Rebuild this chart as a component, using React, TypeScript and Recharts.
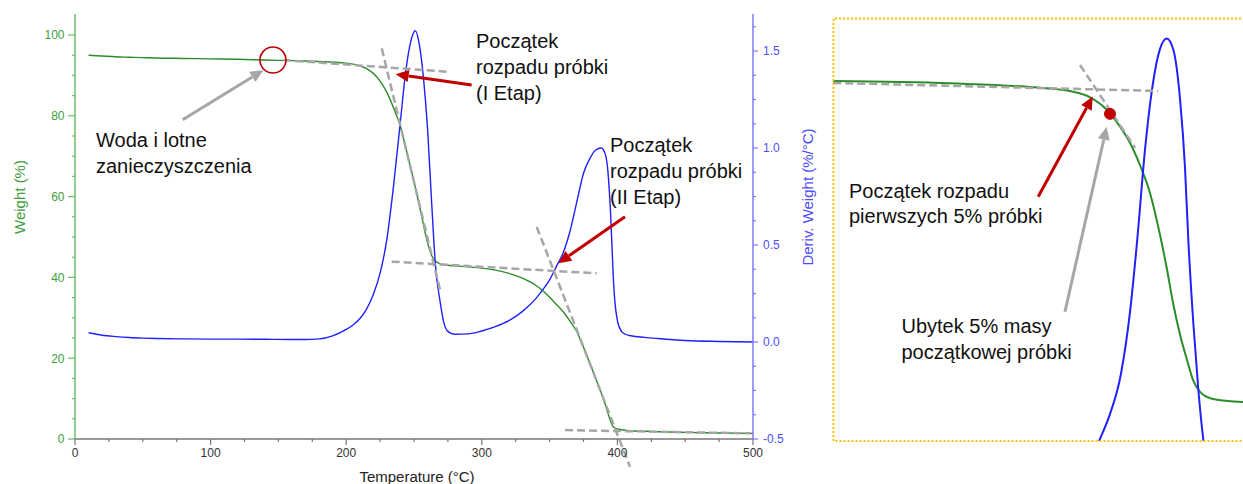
import React from 'react'
import { ComposedChart, Line, XAxis, YAxis, ReferenceLine, ReferenceDot } from 'recharts'

// TGA run: temperature (°C), weight (%), derivative weight (%/°C)
const temps = [
  10, 20, 30, 40, 50, 60, 80, 100, 120, 140, 160, 170, 180, 190, 200, 205, 210, 215, 220, 225, 230, 235, 240,
  244, 248, 251, 254, 257, 260, 263, 266, 269, 272, 275, 280, 290, 300, 310, 320, 330, 340, 345, 350, 355, 360,
  365, 370, 375, 380, 384, 388, 391, 393, 395, 397, 398, 400, 403, 406, 410, 420, 430, 450, 475, 500,
]
const weight = [
  95.0, 94.8, 94.6, 94.5, 94.4, 94.3, 94.2, 94.1, 94.0, 93.8, 93.65, 93.55, 93.45, 93.3, 93.05, 92.8, 92.4, 91.7,
  90.5, 88.6, 85.8, 81.9, 77.3, 72.0, 66.5, 62.3, 57.8, 53.0, 48.6, 45.4, 44.0, 43.4, 43.15, 43.0, 42.85, 42.6,
  42.3, 41.8, 41.0, 39.8, 38.0, 36.7, 35.1, 33.3, 31.5, 29.2, 26.6, 22.7, 18.5, 15.0, 11.5, 8.6, 6.4, 4.4, 3.0,
  2.75, 2.5, 2.3, 2.15, 2.05, 1.9, 1.8, 1.65, 1.5, 1.4,
]
const deriv = [
  0.048, 0.035, 0.028, 0.023, 0.02, 0.018, 0.016, 0.015, 0.015, 0.014, 0.013, 0.013, 0.016, 0.032, 0.065, 0.088,
  0.12, 0.17, 0.245, 0.355, 0.53, 0.81, 1.14, 1.4, 1.56, 1.605, 1.53, 1.36, 1.1, 0.72, 0.38, 0.22, 0.1, 0.055, 0.04,
  0.042, 0.057, 0.079, 0.11, 0.158, 0.225, 0.27, 0.32, 0.39, 0.46, 0.57, 0.72, 0.87, 0.95, 0.99, 1.0, 0.97, 0.88,
  0.66, 0.33, 0.22, 0.11, 0.055, 0.04, 0.032, 0.024, 0.018, 0.008, 0.003, 0.0,
]

// close-up of the first decomposition step
const zoomWeightTemps = [
  71.3, 134.2, 178.8, 200.3, 209.5, 218.6, 225.6, 231.0, 236.3, 241.7, 247.1, 250.9, 254.1, 257.9, 261.6, 264.8,
  268.6, 272.3, 275.6, 291.7,
]
const zoomWeight = [
  94.31, 93.94, 93.3, 92.58, 91.68, 89.63, 86.93, 84.29, 80.73, 76.21, 69.42, 63.76, 58.42, 53.25, 49.2, 45.97,
  44.03, 43.22, 42.9, 42.41,
]
const zoomDerivTemps = [
  205, 210, 215, 220, 226, 231, 235, 239, 243, 247, 250.7, 254.3, 257.9, 260.5, 262.3, 265, 267.7, 270.4, 273, 276,
]
const zoomDeriv = [
  0.08, 0.14, 0.22, 0.3, 0.44, 0.66, 0.92, 1.22, 1.44, 1.57, 1.608, 1.568, 1.394, 1.162, 0.908, 0.619, 0.387, 0.213,
  0.1, 0.05,
]

const tempTicks = [0, 25, 50, 75, 100, 125, 150, 175, 200, 225, 250, 275, 300, 325, 350, 375, 400, 425, 450, 475, 500]
const weightTicks = [0, 5, 10, 15, 20, 25, 30, 35, 40, 45, 50, 55, 60, 65, 70, 75, 80, 85, 90, 95, 100]
const derivTicks = [
  -0.5, -0.375, -0.25, -0.125, 0, 0.125, 0.25, 0.375, 0.5, 0.625, 0.75, 0.875, 1, 1.125, 1.25, 1.375, 1.5, 1.625,
]

// tangent construction lines [x1, y1, x2, y2] in temperature / weight units
const tangents = [
  [153.4, 93.8, 275.3, 90.9],
  [226.2, 96.7, 269.2, 36.9],
  [233.5, 43.9, 384.7, 41.0],
  [340.5, 52.5, 409.3, -6.9],
  [361.4, 2.2, 497.8, 1.4],
]
const zoomTangents = [
  [71.4, 94.0, 246, 92.7],
  [204.1, 96.9, 233.7, 83.5],
]

const rows = temps.map((t, i) => ({ t, weight: weight[i], deriv: deriv[i] }))
const zoomWeightRows = zoomWeightTemps.map((t, i) => ({ t, w: zoomWeight[i] }))
const zoomDerivRows = zoomDerivTemps.map((t, i) => ({ t, d: zoomDeriv[i] }))

const GREEN = '#2b8c2b'
const GREEN_AXIS = '#6cc06c'
const GREEN_TEXT = '#3d9e3d'
const BLUE = '#2020ff'
const BLUE_AXIS = '#7b7bff'
const BLUE_TEXT = '#4d4dff'
const RED = '#c00000'
const GREY = '#a6a6a6'
const FONT = '"Liberation Sans", Arial, sans-serif'

const TempTick = (p: any) => {
  const v = p.payload.value
  const major = v % 100 === 0
  return (
    <g>
      <line x1={p.x} x2={p.x} y1={p.y} y2={p.y + (major ? 6 : 3)} stroke="#777" strokeWidth={1.2} />
      {major && (
        <text x={p.x} y={p.y + 17.7} textAnchor="middle" fontSize={12} fill="#333" fontFamily={FONT}>
          {v}
        </text>
      )}
    </g>
  )
}

const WeightTick = (p: any) => {
  const v = p.payload.value
  const major = v % 20 === 0
  return (
    <g>
      <line x1={p.x - (major ? 7 : 3)} x2={p.x} y1={p.y} y2={p.y} stroke={GREEN_AXIS} strokeWidth={1.2} />
      {major && (
        <text x={p.x - 10.5} y={p.y} dy="0.36em" textAnchor="end" fontSize={12} fill={GREEN_TEXT} fontFamily={FONT}>
          {v}
        </text>
      )}
    </g>
  )
}

const DerivTick = (p: any) => {
  const v = p.payload.value
  const major = Math.abs(v * 2 - Math.round(v * 2)) < 1e-6
  return (
    <g>
      <line x1={p.x} x2={p.x + (major ? 5 : 3)} y1={p.y} y2={p.y} stroke={BLUE_AXIS} strokeWidth={1.2} />
      {major && (
        <text x={p.x + 10} y={p.y} dy="0.36em" textAnchor="start" fontSize={12} fill={BLUE_TEXT} fontFamily={FONT}>
          {v.toFixed(1)}
        </text>
      )}
    </g>
  )
}

// straight arrow with a filled head at (x2, y2)
const arrow = (color: string, width: number) => (p: any) => {
  const { x1, y1, x2, y2 } = p
  const a = Math.atan2(y2 - y1, x2 - x1)
  const len = 13
  const half = 6
  const bx = x2 - len * Math.cos(a)
  const by = y2 - len * Math.sin(a)
  const nx = -Math.sin(a) * half
  const ny = Math.cos(a) * half
  return (
    <g>
      <line x1={x1} y1={y1} x2={bx} y2={by} stroke={color} strokeWidth={width} />
      <polygon points={`${x2},${y2} ${bx + nx},${by + ny} ${bx - nx},${by - ny}`} fill={color} />
    </g>
  )
}

const textStyle = { fontFamily: FONT, fontSize: 20, fill: '#111' }

export default function App() {
  return (
    <div style={{ position: 'absolute', left: 0, top: 0, width: 1243, height: 484, background: '#fff' }}>
      <div style={{ position: 'absolute', left: 0, top: 0 }}>
        <ComposedChart width={830} height={484} data={rows} margin={{ top: 14, right: 17, bottom: 15, left: 0 }}>
          <XAxis
            dataKey="t"
            type="number"
            domain={[0, 500]}
            ticks={tempTicks}
            interval={0}
            tick={TempTick}
            tickLine={false}
            tickSize={0}
            tickMargin={0}
            height={30}
            axisLine={{ stroke: '#777', strokeWidth: 1.5 }}
          />
          <XAxis
            xAxisId="top"
            orientation="top"
            type="number"
            domain={[0, 500]}
            height={0}
            tick={false}
            tickLine={false}
            axisLine={{ stroke: '#222', strokeWidth: 1.5 }}
          />
          <YAxis
            yAxisId="w"
            domain={[0, 105.2]}
            ticks={weightTicks}
            interval={0}
            width={75}
            tick={WeightTick}
            tickLine={false}
            tickSize={0}
            tickMargin={0}
            axisLine={{ stroke: GREEN_AXIS, strokeWidth: 1.5 }}
            allowDataOverflow
          />
          <YAxis
            yAxisId="d"
            orientation="right"
            domain={[-0.5, 1.691]}
            ticks={derivTicks}
            interval={0}
            width={60}
            tick={DerivTick}
            tickLine={false}
            tickSize={0}
            tickMargin={0}
            axisLine={{ stroke: BLUE_AXIS, strokeWidth: 1.5 }}
            allowDataOverflow
          />
          <Line yAxisId="w" dataKey="weight" type="monotone" stroke={GREEN} strokeWidth={1.4} dot={false} isAnimationActive={false} />
          <Line yAxisId="d" dataKey="deriv" type="monotone" stroke={BLUE} strokeWidth={1.4} dot={false} isAnimationActive={false} />
          {tangents.map(([a, b, c, d], i) => (
            <ReferenceLine
              key={i}
              yAxisId="w"
              segment={[{ x: a, y: b }, { x: c, y: d }]}
              stroke={GREY}
              strokeWidth={2.5}
              strokeDasharray="8 4"
              ifOverflow="visible"
            />
          ))}
          <ReferenceDot yAxisId="w" x={146} y={93.8} r={13} fill="none" stroke={RED} strokeWidth={1.6} ifOverflow="visible" />
          <ReferenceLine yAxisId="w" segment={[{ x: 79.4, y: 79.0 }, { x: 138.9, y: 91.3 }]} ifOverflow="visible" shape={arrow(GREY, 3)} />
          <ReferenceLine yAxisId="w" segment={[{ x: 292.5, y: 87.6 }, { x: 236.5, y: 90.3 }]} ifOverflow="visible" shape={arrow(RED, 3)} />
          <ReferenceLine yAxisId="w" segment={[{ x: 405.6, y: 55.0 }, { x: 356.4, y: 43.5 }]} ifOverflow="visible" shape={arrow(RED, 3)} />
        </ComposedChart>
      </div>

      <div style={{ position: 'absolute', left: 833, top: 18 }}>
        <ComposedChart width={410} height={423} margin={{ top: 0, right: 0, bottom: 0, left: 0 }}>
          <XAxis dataKey="t" type="number" domain={[71.3, 291.7]} hide allowDataOverflow />
          <YAxis yAxisId="w" domain={[36.1, 104.5]} hide allowDataOverflow />
          <YAxis yAxisId="d" domain={[0.21, 1.679]} hide allowDataOverflow />
          <Line data={zoomWeightRows} yAxisId="w" dataKey="w" type="monotone" stroke={GREEN} strokeWidth={2} dot={false} isAnimationActive={false} />
          <Line data={zoomDerivRows} yAxisId="d" dataKey="d" type="monotone" stroke={BLUE} strokeWidth={2} dot={false} isAnimationActive={false} />
          {zoomTangents.map(([a, b, c, d], i) => (
            <ReferenceLine
              key={i}
              yAxisId="w"
              segment={[{ x: a, y: b }, { x: c, y: d }]}
              stroke={GREY}
              strokeWidth={2.5}
              strokeDasharray="8 4"
              ifOverflow="visible"
            />
          ))}
          <ReferenceDot yAxisId="w" x={220.2} y={89.0} r={5.5} fill={RED} stroke={RED} ifOverflow="visible" />
          <ReferenceLine yAxisId="w" segment={[{ x: 181.6, y: 75.6 }, { x: 210.9, y: 91.8 }]} ifOverflow="visible" shape={arrow(RED, 3)} />
          <ReferenceLine yAxisId="w" segment={[{ x: 196, y: 57.0 }, { x: 218.4, y: 86.9 }]} ifOverflow="visible" shape={arrow(GREY, 3)} />
        </ComposedChart>
      </div>

      <svg width={1243} height={484} style={{ position: 'absolute', left: 0, top: 0, pointerEvents: 'none' }}>
        {/* dotted frame around the close-up */}
        <path d="M1245 18.5 H833.5 V441 H1245" fill="none" stroke="#ffc000" strokeWidth={2} strokeDasharray="2 2" />

        <text x={20} y={197} transform="rotate(-90 20 197)" textAnchor="middle" dy="0.35em" fontFamily={FONT} fontSize={15} fill={GREEN_TEXT}>
          Weight (%)
        </text>
        <text x={808} y={197} transform="rotate(-90 808 197)" textAnchor="middle" dy="0.35em" fontFamily={FONT} fontSize={15} fill={BLUE_TEXT}>
          Deriv. Weight (%/°C)
        </text>
        <text x={417} y={481.5} textAnchor="middle" fontFamily={FONT} fontSize={15} fill="#222">
          Temperature (°C)
        </text>

        <text x={96} y={146.7} {...textStyle}>
          Woda i lotne
        </text>
        <text x={96} y={173.3} {...textStyle}>
          zanieczyszczenia
        </text>

        <text x={476} y={47.7} {...textStyle}>
          Początek
        </text>
        <text x={476} y={74} {...textStyle}>
          rozpadu próbki
        </text>
        <text x={476} y={100} {...textStyle}>
          (I Etap)
        </text>

        <text x={610} y={151.7} {...textStyle}>
          Początek
        </text>
        <text x={610} y={178} {...textStyle}>
          rozpadu próbki
        </text>
        <text x={610} y={204} {...textStyle}>
          (II Etap)
        </text>

        <text x={849} y={198.3} {...textStyle}>
          Początek rozpadu
        </text>
        <text x={849} y={222.5} {...textStyle}>
          pierwszych 5% próbki
        </text>

        <text x={901.5} y={333.3} {...textStyle}>
          Ubytek 5% masy
        </text>
        <text x={901.5} y={359} {...textStyle}>
          początkowej próbki
        </text>
      </svg>
    </div>
  )
}
